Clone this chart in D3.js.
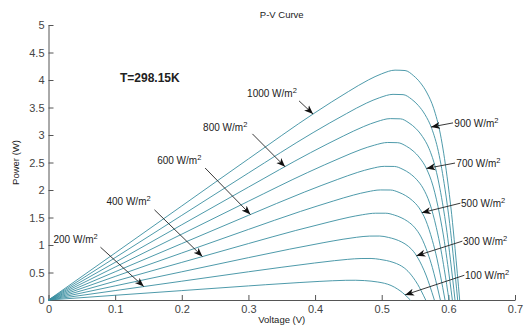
<!DOCTYPE html>
<html>
<head>
<meta charset="utf-8">
<script src="https://d3js.org/d3.v7.min.js"></script>
<style>
  body { margin: 0; background: #fff; }
  text { font-family: "Liberation Sans", Arial, sans-serif; fill: #222; }
  .axis path, .axis line { stroke: #555; }
  .axis text { font-size: 11px; fill: #444; }
</style>
</head>
<body>
<script>
// P-V curves, [voltage (V), power (W)]
const g100 = [[0,0],[0.1,0.086],[0.2,0.171],[0.3,0.256],[0.326,0.278],[0.376,0.317],[0.406,0.338],[0.426,0.350],[0.446,0.358],[0.461,0.359],[0.474,0.353],[0.484,0.343],[0.494,0.327],[0.504,0.304],[0.514,0.264],[0.524,0.197],[0.531,0.136],[0.536,0.082],[0.543,0]];
const g200 = [[0,0],[0.1,0.171],[0.2,0.342],[0.3,0.513],[0.349,0.594],[0.399,0.672],[0.429,0.715],[0.449,0.739],[0.469,0.754],[0.484,0.755],[0.497,0.739],[0.507,0.718],[0.517,0.685],[0.527,0.635],[0.537,0.551],[0.547,0.412],[0.554,0.284],[0.559,0.172],[0.566,0]];
const g300 = [[0,0],[0.1,0.257],[0.2,0.513],[0.3,0.770],[0.362,0.925],[0.412,1.041],[0.442,1.105],[0.462,1.140],[0.482,1.162],[0.497,1.163],[0.510,1.138],[0.520,1.105],[0.530,1.054],[0.540,0.976],[0.550,0.846],[0.560,0.632],[0.567,0.436],[0.572,0.264],[0.579,0]];
const g400 = [[0,0],[0.1,0.342],[0.2,0.684],[0.3,1.026],[0.371,1.264],[0.421,1.418],[0.451,1.504],[0.471,1.550],[0.491,1.578],[0.506,1.578],[0.519,1.544],[0.529,1.498],[0.539,1.429],[0.549,1.324],[0.559,1.147],[0.569,0.856],[0.576,0.591],[0.581,0.358],[0.588,0]];
const g500 = [[0,0],[0.1,0.428],[0.2,0.855],[0.3,1.283],[0.378,1.610],[0.428,1.802],[0.458,1.909],[0.478,1.966],[0.498,2.001],[0.513,2.000],[0.526,1.956],[0.536,1.897],[0.546,1.809],[0.556,1.676],[0.566,1.452],[0.576,1.083],[0.583,0.748],[0.588,0.452],[0.595,0]];
const g600 = [[0,0],[0.1,0.513],[0.2,1.026],[0.3,1.539],[0.384,1.962],[0.434,2.193],[0.464,2.321],[0.484,2.389],[0.504,2.430],[0.519,2.428],[0.532,2.374],[0.542,2.302],[0.552,2.195],[0.562,2.033],[0.572,1.761],[0.582,1.314],[0.589,0.906],[0.594,0.549],[0.601,0]];
const g700 = [[0,0],[0.1,0.599],[0.2,1.197],[0.3,1.796],[0.389,2.319],[0.439,2.588],[0.469,2.737],[0.489,2.815],[0.509,2.864],[0.524,2.860],[0.537,2.796],[0.547,2.711],[0.557,2.584],[0.567,2.392],[0.577,2.072],[0.587,1.546],[0.594,1.067],[0.599,0.645],[0.606,0]];
const g800 = [[0,0],[0.1,0.684],[0.2,1.368],[0.3,2.052],[0.393,2.677],[0.443,2.985],[0.473,3.154],[0.493,3.244],[0.513,3.298],[0.528,3.294],[0.541,3.219],[0.551,3.121],[0.561,2.974],[0.571,2.754],[0.581,2.384],[0.591,1.779],[0.598,1.227],[0.603,0.742],[0.610,0]];
const g900 = [[0,0],[0.1,0.770],[0.2,1.539],[0.3,2.309],[0.397,3.043],[0.447,3.388],[0.477,3.579],[0.497,3.679],[0.517,3.739],[0.532,3.734],[0.545,3.649],[0.555,3.536],[0.565,3.370],[0.575,3.120],[0.585,2.701],[0.595,2.015],[0.602,1.390],[0.607,0.841],[0.614,0]];
const g1000 = [[0,0],[0.1,0.855],[0.2,1.710],[0.3,2.565],[0.400,3.406],[0.450,3.790],[0.480,4.001],[0.500,4.113],[0.520,4.179],[0.535,4.172],[0.548,4.076],[0.558,3.950],[0.568,3.764],[0.578,3.484],[0.588,3.016],[0.598,2.250],[0.605,1.552],[0.610,0.939],[0.617,0]];

const irradiance = [100, 200, 300, 400, 500, 600, 700, 800, 900, 1000];
const curves = [g100, g200, g300, g400, g500, g600, g700, g800, g900, g1000];

const xTicks = [0, 0.1, 0.2, 0.3, 0.4, 0.5, 0.6, 0.7];
const yTicks = [0, 0.5, 1, 1.5, 2, 2.5, 3, 3.5, 4, 4.5, 5];

// label annotations: irradiance, voltage where the arrow touches, label / tail spots in data units
const notes = [
  {g: 1000, tipV: 0.397, text: [0.298, 3.69], tail: [0.376, 3.62]},
  {g: 800,  tipV: 0.355, text: [0.232, 3.07], tail: [0.306, 3.02]},
  {g: 600,  tipV: 0.303, text: [0.163, 2.47], tail: [0.235, 2.40]},
  {g: 400,  tipV: 0.231, text: [0.087, 1.73], tail: [0.159, 1.64]},
  {g: 200,  tipV: 0.143, text: [0.0075, 1.04], tail: [0.078, 0.96]},
  {g: 900,  tipV: 0.574, text: [0.609, 3.15], tail: [0.607, 3.22]},
  {g: 700,  tipV: 0.567, text: [0.612, 2.42], tail: [0.610, 2.49]},
  {g: 500,  tipV: 0.560, text: [0.619, 1.69], tail: [0.618, 1.76]},
  {g: 300,  tipV: 0.552, text: [0.622, 1.00], tail: [0.621, 1.07]},
  {g: 100,  tipV: 0.535, text: [0.625, 0.38], tail: [0.624, 0.45]}
];

const width = 526, height = 326;
const mLeft = 48.5, mRight = 515, mTop = 25, mBottom = 300;

const svg = d3.select("body").append("svg")
  .attr("width", width)
  .attr("height", height);

const x = d3.scaleLinear().domain([0, 0.7]).range([mLeft, mRight]);
const y = d3.scaleLinear().domain([0, 5]).range([mBottom, mTop]);

const fmt = d => String(+d.toFixed(1));

svg.append("g")
  .attr("class", "axis")
  .attr("transform", `translate(0,${mBottom})`)
  .call(d3.axisBottom(x).tickValues(xTicks).tickFormat(fmt).tickSizeInner(-5).tickSizeOuter(0).tickPadding(5));

svg.append("g")
  .attr("class", "axis")
  .attr("transform", `translate(${mLeft},0)`)
  .call(d3.axisLeft(y).tickValues(yTicks).tickFormat(fmt).tickSizeInner(-5).tickSizeOuter(0).tickPadding(4));

// curves
const line = d3.line()
  .x(d => x(d[0]))
  .y(d => y(d[1]))
  .curve(d3.curveMonotoneX);

svg.append("g")
  .selectAll("path")
  .data(curves)
  .join("path")
  .attr("d", line)
  .attr("fill", "none")
  .attr("stroke", "#3a8fa0")
  .attr("stroke-width", 0.9);

// arrowhead
svg.append("defs").append("marker")
  .attr("id", "head")
  .attr("viewBox", "0 -4 10 8")
  .attr("refX", 9)
  .attr("refY", 0)
  .attr("markerUnits", "userSpaceOnUse")
  .attr("markerWidth", 10)
  .attr("markerHeight", 8)
  .attr("orient", "auto")
  .append("path")
  .attr("d", "M0,-3.5L9,0L0,3.5L2.5,0Z")
  .attr("fill", "#111");

function valueAt(pts, v) {
  const i = d3.bisector(d => d[0]).left(pts, v);
  if (i <= 0) return pts[0][1];
  if (i >= pts.length) return pts[pts.length - 1][1];
  const a = pts[i - 1], b = pts[i];
  return a[1] + (b[1] - a[1]) * (v - a[0]) / (b[0] - a[0]);
}

notes.forEach(n => {
  const pts = curves[irradiance.indexOf(n.g)];
  const tipP = valueAt(pts, n.tipV);
  svg.append("line")
    .attr("x1", x(n.tail[0])).attr("y1", y(n.tail[1]))
    .attr("x2", x(n.tipV)).attr("y2", y(tipP))
    .attr("stroke", "#222")
    .attr("stroke-width", 0.9)
    .attr("marker-end", "url(#head)");
  const t = svg.append("text")
    .attr("x", x(n.text[0]))
    .attr("y", y(n.text[1]))
    .style("font-size", "10px");
  t.append("tspan").text(n.g + " W/m");
  t.append("tspan").attr("dy", -4).style("font-size", "7.5px").text("2");
});

// titles
svg.append("text")
  .attr("x", (mLeft + mRight) / 2)
  .attr("y", 18)
  .attr("text-anchor", "middle")
  .style("font-size", "9.5px")
  .text("P-V Curve");

svg.append("text")
  .attr("x", (mLeft + mRight) / 2)
  .attr("y", 323)
  .attr("text-anchor", "middle")
  .style("font-size", "9.5px")
  .text("Voltage (V)");

svg.append("text")
  .attr("transform", `translate(18.5,${(mTop + mBottom) / 2}) rotate(-90)`)
  .attr("text-anchor", "middle")
  .style("font-size", "9.5px")
  .text("Power (W)");

svg.append("text")
  .attr("x", 120)
  .attr("y", 82)
  .style("font-size", "12px")
  .style("font-weight", "bold")
  .text("T=298.15K");
</script>
</body>
</html>
